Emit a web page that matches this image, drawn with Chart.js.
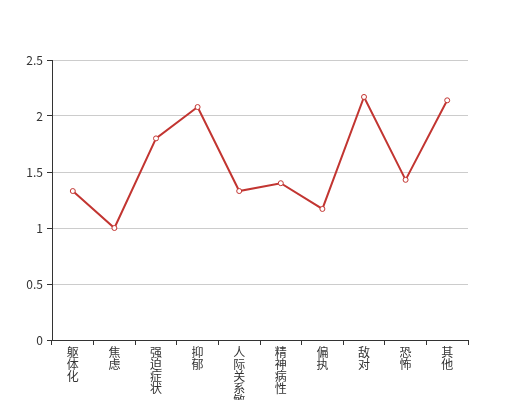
<!DOCTYPE html>
<html>
<head>
<meta charset="utf-8">
<script src="https://cdn.jsdelivr.net/npm/chart.js@4/dist/chart.umd.min.js"></script>
<style>
html,body{margin:0;padding:0;background:#fff;}
canvas{display:block;}
</style>
</head>
<body>
<canvas id="c" width="520" height="400"></canvas>
<script>
const categories = ['躯体化','焦虑','强迫症状','抑郁','人际关系敏感','精神病性','偏执','敌对','恐怖','其他'];
const values = [1.33, 1.0, 1.8, 2.08, 1.33, 1.4, 1.17, 2.17, 1.43, 2.14];
const yTicks = [0, 0.5, 1, 1.5, 2, 2.5];

const font = {family: "'Noto Sans CJK SC', 'Noto Sans', sans-serif", size: 12, lineHeight: 1.0};

new Chart(document.getElementById('c'), {
  type: 'line',
  data: {
    labels: categories.map(s => s.split('')),
    datasets: [{
      data: values,
      borderColor: '#c23531',
      borderWidth: 2,
      pointRadius: 2.5,
      pointBorderWidth: 1,
      pointBackgroundColor: '#fff',
      pointBorderColor: '#c23531',
      tension: 0,
      fill: false
    }]
  },
  options: {
    responsive: false,
    animation: false,
    devicePixelRatio: 1,
    layout: {padding: {top: 60, right: 52, left: 0, bottom: 0}},
    plugins: {legend: {display: false}, tooltip: {enabled: false}},
    scales: {
      x: {
        offset: true,
        grid: {display: true, drawOnChartArea: false, tickColor: '#333', tickLength: 5, offset: true},
        border: {color: '#333', width: 1},
        ticks: {color: '#333', font: font, maxRotation: 0, minRotation: 0, autoSkip: false, padding: 1},
        afterFit: s => { s.height = 60; }
      },
      y: {
        min: 0, max: 2.5,
        afterBuildTicks: s => { s.ticks = yTicks.map(v => ({value: v})); },
        grid: {color: '#ccc', tickColor: '#333', tickLength: 5},
        border: {color: '#333', width: 1},
        ticks: {color: '#333', font: {family: font.family, size: 12}, padding: 4, callback: v => String(v)},
        afterFit: s => { s.width = 52; }
      }
    }
  }
});
</script>
</body>
</html>
